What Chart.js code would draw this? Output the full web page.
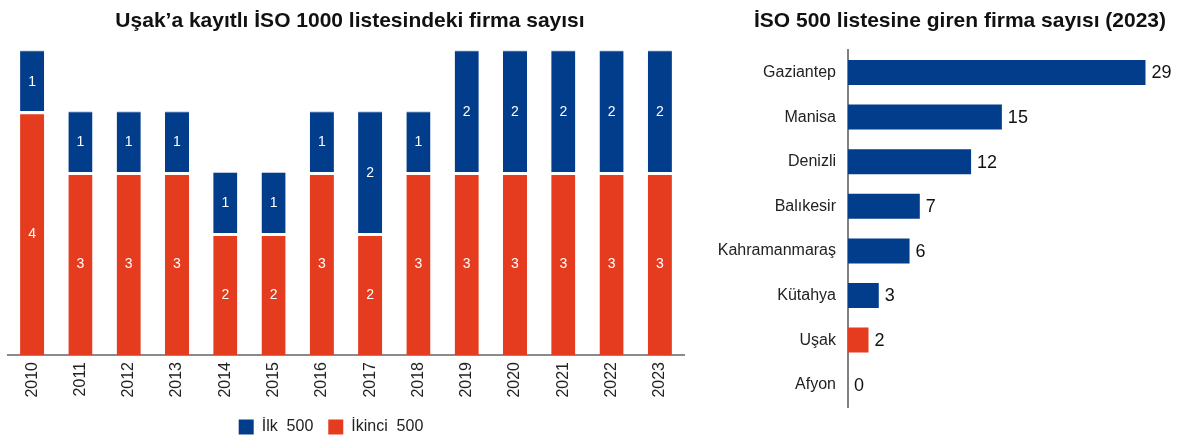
<!DOCTYPE html>
<html>
<head>
<meta charset="utf-8">
<script src="https://cdn.jsdelivr.net/npm/chart.js@4/dist/chart.umd.min.js"></script>
<style>
  html, body { margin:0; padding:0; background:#fff; }
  #wrap { position:relative; width:1179px; height:435px; }
  #c1 { position:absolute; left:0; top:0; }
  #c2 { position:absolute; left:700px; top:0; }
</style>
</head>
<body>
<div id="wrap">
  <canvas id="c1" width="692" height="435"></canvas>
  <canvas id="c2" width="479" height="435"></canvas>
</div>
<script>
// ---- Data ----
const years = ['2010','2011','2012','2013','2014','2015','2016','2017','2018','2019','2020','2021','2022','2023'];
const ilk500 = [1,1,1,1,1,1,1,2,1,2,2,2,2,2];
const ikinci500 = [4,3,3,3,2,2,3,2,3,3,3,3,3,3];
const seriesNames = ['İlk  500', 'İkinci  500'];

const cities = ['Gaziantep','Manisa','Denizli','Balıkesir','Kahramanmaraş','Kütahya','Uşak','Afyon'];
const cityCounts = [29,15,12,7,6,3,2,0];
const highlightCity = 'Uşak';

const title1 = 'Uşak’a kayıtlı İSO 1000 listesindeki firma sayısı';
const title2 = 'İSO 500 listesine giren firma sayısı (2023)';

const BLUE = '#023D8C';
const RED = '#E53B1E';
const FONT = "'Liberation Sans', Arial, sans-serif";

Chart.defaults.font.family = FONT;
Chart.defaults.animation = false;

const stackLabels = {
  id: 'stackLabels',
  afterDatasetsDraw(chart) {
    const ctx = chart.ctx;
    ctx.save();
    ctx.fillStyle = '#ffffff';
    ctx.font = '14px ' + FONT;
    ctx.textAlign = 'center';
    ctx.textBaseline = 'middle';
    chart.data.datasets.forEach((ds, di) => {
      const meta = chart.getDatasetMeta(di);
      meta.data.forEach((el, i) => {
        const v = ds.data[i];
        if (!v) return;
        ctx.fillText(String(v), el.x, (el.y + el.base) / 2 + 1);
      });
    });
    ctx.restore();
  }
};

// small horizontal nudges of title / legend blocks
const nudge = {
  id: 'nudge',
  afterLayout(chart, args, opts) {
    if (opts.title && chart.titleBlock) { chart.titleBlock.left += opts.title; chart.titleBlock.right += opts.title; }
    if (opts.legend && chart.legend) { chart.legend.left += opts.legend; chart.legend.right += opts.legend; }
  }
};

const endLabels = {
  id: 'endLabels',
  afterDatasetsDraw(chart) {
    const ctx = chart.ctx;
    ctx.save();
    ctx.fillStyle = '#111111';
    ctx.font = '18px ' + FONT;
    ctx.textAlign = 'left';
    ctx.textBaseline = 'middle';
    const ds = chart.data.datasets[0];
    chart.getDatasetMeta(0).data.forEach((el, i) => {
      ctx.fillText(String(ds.data[i]), el.x + 6, el.y + 1);
    });
    ctx.restore();
  }
};

new Chart(document.getElementById('c1'), {
  type: 'bar',
  data: {
    labels: years,
    datasets: [
      { label: seriesNames[1], data: ikinci500, backgroundColor: RED,
        borderColor: '#ffffff', borderWidth: { top: 3 }, borderSkipped: false },
      { label: seriesNames[0], data: ilk500, backgroundColor: BLUE,
        borderColor: '#b9c6da', borderWidth: { top: 1 }, borderSkipped: false }
    ]
  },
  options: {
    responsive: false,
    layout: { padding: { left: 8, right: 8, top: 9, bottom: -10 } },
    datasets: { bar: { categoryPercentage: 1, barPercentage: 0.5 } },
    plugins: {
      nudge: { title: 4, legend: -15 },
      title: { display: true, text: title1, color: '#111', font: { size: 21, weight: 'bold' }, padding: { top: 0, bottom: 16 } },
      legend: {
        position: 'bottom',
        labels: {
          boxWidth: 15, boxHeight: 15, color: '#222', font: { size: 16 }, padding: 15,
          generateLabels(chart) {
            return chart.data.datasets.map((ds, i) => ({
              text: ds.label, fillStyle: ds.backgroundColor, strokeStyle: ds.backgroundColor,
              lineWidth: 0, hidden: false, datasetIndex: i, fontColor: '#222'
            })).reverse();
          }
        }
      },
      tooltip: { enabled: false }
    },
    scales: {
      x: {
        stacked: true,
        grid: { display: false, drawTicks: false },
        border: { display: true, color: '#8a8a8a', width: 2 },
        ticks: { color: '#222', font: { size: 16 }, minRotation: 90, maxRotation: 90, padding: 7, autoSkip: false },
        afterFit(s) { s.height = 49; }
      },
      y: { stacked: true, display: false, min: 0, max: 5 }
    }
  },
  plugins: [stackLabels, nudge]
});

new Chart(document.getElementById('c2'), {
  type: 'bar',
  data: {
    labels: cities,
    datasets: [{
      data: cityCounts,
      backgroundColor: cities.map(c => c === highlightCity ? RED : BLUE),
      barPercentage: 0.56, categoryPercentage: 1
    }]
  },
  options: {
    indexAxis: 'y',
    responsive: false,
    layout: { padding: { left: 0, right: 13, top: 9, bottom: 28 } },
    plugins: {
      title: { display: true, align: 'end', text: title2, color: '#111', font: { size: 21, weight: 'bold' }, padding: { top: 0, bottom: 16 } },
      legend: { display: false },
      tooltip: { enabled: false }
    },
    scales: {
      x: { display: false, min: 0, max: 31 },
      y: {
        grid: { display: false, drawTicks: false },
        border: { display: true, color: '#808080', width: 2 },
        ticks: { color: '#222', font: { size: 16 }, padding: 12 },
        afterFit(s) { s.width = 148; }
      }
    }
  },
  plugins: [endLabels]
});
</script>
</body>
</html>
